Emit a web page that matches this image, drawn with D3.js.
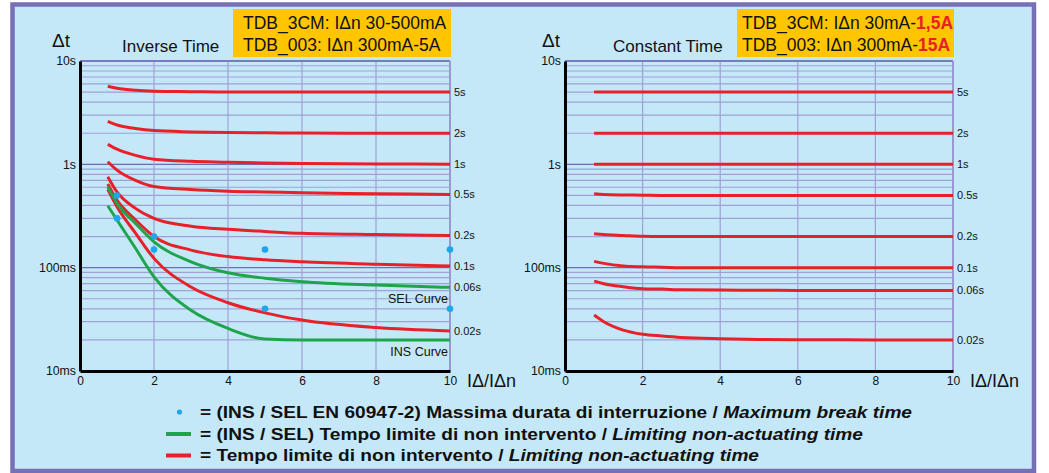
<!DOCTYPE html>
<html lang="it">
<head>
    <meta charset="UTF-8">
    <title>Inverse / Constant Time</title>
    <script src="https://cdnjs.cloudflare.com/ajax/libs/d3/7.8.5/d3.min.js"></script>
    <style>
        body { margin: 0; background: #fff; }
        svg text { font-family: "Liberation Sans", Arial, sans-serif; fill: #111; }
    </style>
</head>
<body>
<svg id="chart" width="1049" height="473"></svg>

<script>
    // ---- data ----
    var invX = [0.75, 1, 1.5, 2, 3, 4, 5, 6, 8, 10];
    var invLabels = ['5s', '2s', '1s', '0.5s', '0.2s', '0.1s', '0.06s', '0.02s'];
    var inv5s  = [5.7, 5.45, 5.2, 5.1, 5.05, 5.0, 5.0, 5.0, 5.0, 5.0];
    var inv2s  = [2.6, 2.4, 2.22, 2.12, 2.06, 2.03, 2.02, 2.01, 2.0, 2.0];
    var inv1s  = [1.56, 1.4, 1.22, 1.12, 1.07, 1.05, 1.03, 1.02, 1.01, 1.0];
    var inv05s = [1.06, 0.88, 0.7, 0.61, 0.57, 0.55, 0.54, 0.53, 0.52, 0.51];
    var inv02s = [0.76, 0.54, 0.375, 0.3, 0.252, 0.235, 0.224, 0.215, 0.209, 0.205];
    var inv01s = [0.645, 0.45, 0.29, 0.2, 0.148, 0.128, 0.119, 0.114, 0.108, 0.104];
    var inv002s = [0.573, 0.389, 0.216, 0.123, 0.065, 0.0458, 0.0365, 0.0311, 0.0263, 0.0244];
    var selCurve = [0.607, 0.419, 0.268, 0.178, 0.114, 0.0892, 0.079, 0.0732, 0.0678, 0.0645];
    var insCurve = [0.397, 0.289, 0.154, 0.0815, 0.0387, 0.0258, 0.0204, 0.02, 0.02, 0.02];

    // maximum break time points (EN 60947-2)
    var breakX = [1, 1, 2, 2, 5, 5, 10, 10];
    var breakT = [0.5, 0.3, 0.2, 0.15, 0.15, 0.04, 0.15, 0.04];

    var constX = [0.75, 1, 1.5, 2, 2.5, 3, 4, 5, 6, 8, 10];
    var constLabels = ['5s', '2s', '1s', '0.5s', '0.2s', '0.1s', '0.06s', '0.02s'];
    var const5s  = [5, 5, 5, 5, 5, 5, 5, 5, 5, 5, 5];
    var const2s  = [2, 2, 2, 2, 2, 2, 2, 2, 2, 2, 2];
    var const1s  = [1, 1, 1, 1, 1, 1, 1, 1, 1, 1, 1];
    var const05s = [0.52, 0.51, 0.505, 0.503, 0.5, 0.5, 0.5, 0.5, 0.5, 0.5, 0.5];
    var const02s = [0.213, 0.209, 0.205, 0.201, 0.2, 0.2, 0.2, 0.2, 0.2, 0.2, 0.2];
    var const01s = [0.115, 0.11, 0.104, 0.102, 0.101, 0.1, 0.1, 0.1, 0.1, 0.1, 0.1];
    var const006s = [0.0741, 0.07, 0.0655, 0.0626, 0.062, 0.061, 0.0607, 0.0605, 0.0602, 0.06, 0.06];
    var const002s = [0.0348, 0.03, 0.0249, 0.0227, 0.0218, 0.0211, 0.0205, 0.0202, 0.0201, 0.02, 0.02];

    var xTicks = [0, 2, 4, 6, 8, 10];
    var yTicks = [10, 1, 0.1, 0.01];
    var yTickText = ['10s', '1s', '100ms', '10ms'];

    var RED = '#e8202a', GREEN = '#1ea54b', BLUE = '#1ba8ea';

    var svg = d3.select('#chart');

    // frame
    svg.append('rect')
        .attr('x', 12.5).attr('y', 4.5)
        .attr('width', 1021.5).attr('height', 466.5)
        .attr('fill', '#c5e8f8')
        .attr('stroke', '#7770b5')
        .attr('stroke-width', 4.5);

    var left = makePanel({ x0: 80, x1: 450, title: 'Inverse Time', titleX: 122, dtX: 52 });
    var right = makePanel({ x0: 565, x1: 953, title: 'Constant Time', titleX: 613, dtX: 542 });

    var invSeries = [inv5s, inv2s, inv1s, inv05s, inv02s, inv01s, selCurve, inv002s];
    drawCurve(left, invX, inv5s, RED);
    drawCurve(left, invX, inv2s, RED);
    drawCurve(left, invX, inv1s, RED);
    drawCurve(left, invX, inv05s, RED);
    drawCurve(left, invX, inv02s, RED);
    drawCurve(left, invX, inv01s, RED);
    drawCurve(left, invX, inv002s, RED);
    drawCurve(left, invX, selCurve, GREEN);
    drawCurve(left, invX, insCurve, GREEN);
    endLabels(left, invSeries, invLabels);

    left.g.selectAll('.brk')
        .data(breakX)
        .enter()
        .append('circle')
        .attr('cx', function (d) { return left.x(d); })
        .attr('cy', function (d, i) { return left.y(breakT[i]); })
        .attr('r', 3.3)
        .attr('fill', BLUE);

    left.g.append('text')
        .attr('x', 448).attr('y', left.y(0.0645) + 16)
        .attr('text-anchor', 'end')
        .attr('font-size', '12.5px')
        .text('SEL Curve');
    left.g.append('text')
        .attr('x', 448).attr('y', left.y(0.02) + 16)
        .attr('text-anchor', 'end')
        .attr('font-size', '12.5px')
        .text('INS Curve');

    var constSeries = [const5s, const2s, const1s, const05s, const02s, const01s, const006s, const002s];
    constSeries.forEach(function (s) {
        drawCurve(right, constX, s, RED);
    });
    endLabels(right, constSeries, constLabels);

    // orange info boxes
    infoBox(233, 218, [
        [{ t: 'TDB_3CM: I\u0394n 30-500mA' }],
        [{ t: 'TDB_003: I\u0394n 300mA-5A' }]
    ], 243);
    infoBox(737, 217, [
        [{ t: 'TDB_3CM: I\u0394n 30mA-' }, { t: '1,5A', red: true }],
        [{ t: 'TDB_003: I\u0394n 300mA-' }, { t: '15A', red: true }]
    ], 742);

    // legend
    var legend = svg.append('g');
    legend.append('circle').attr('cx', 179.5).attr('cy', 412).attr('r', 2.6).attr('fill', BLUE);
    legend.append('line').attr('x1', 166).attr('x2', 191).attr('y1', 434).attr('y2', 434)
        .attr('stroke', GREEN).attr('stroke-width', 4);
    legend.append('line').attr('x1', 166).attr('x2', 191).attr('y1', 455.5).attr('y2', 455.5)
        .attr('stroke', RED).attr('stroke-width', 4);

    var legendRows = [
        { y: 418, w: 712, a: '= (INS / SEL EN 60947-2) Massima durata di interruzione / ', b: 'Maximum break time' },
        { y: 440, w: 663, a: '= (INS / SEL) Tempo limite di non intervento / ', b: 'Limiting non-actuating time' },
        { y: 461, w: 559, a: '= Tempo limite di non intervento / ', b: 'Limiting non-actuating time' }
    ];
    legendRows.forEach(function (r) {
        var t = legend.append('text')
            .attr('x', 200).attr('y', r.y)
            .attr('font-size', '17px')
            .attr('font-weight', 'bold')
            .style('font-family', '"Liberation Sans Narrow", "Arial Narrow", "Liberation Sans", sans-serif')
            .attr('textLength', r.w)
            .attr('lengthAdjust', 'spacingAndGlyphs');
        t.append('tspan').text(r.a);
        t.append('tspan').attr('font-style', 'italic').text(r.b);
    });

    function makePanel(o) {
        var x = d3.scaleLinear().domain([0, 10]).range([o.x0, o.x1]);
        var y = d3.scaleLog().domain([0.01, 10]).range([371, 61]);
        var g = svg.append('g');

        // log grid
        var minor = [];
        [0.01, 0.1, 1].forEach(function (dec) {
            for (var k = 2; k <= 9; k++) minor.push(dec * k);
        });
        g.selectAll('.minor')
            .data(minor)
            .enter()
            .append('line')
            .attr('x1', o.x0).attr('x2', o.x1)
            .attr('y1', function (d) { return y(d); })
            .attr('y2', function (d) { return y(d); })
            .attr('stroke', '#a09fd6')
            .attr('stroke-width', 1.2);
        g.selectAll('.major')
            .data([1, 0.1])
            .enter()
            .append('line')
            .attr('x1', o.x0).attr('x2', o.x1)
            .attr('y1', function (d) { return y(d); })
            .attr('y2', function (d) { return y(d); })
            .attr('stroke', '#6e6cb6')
            .attr('stroke-width', 1.4);
        g.selectAll('.vgrid')
            .data([2, 4, 6, 8])
            .enter()
            .append('line')
            .attr('x1', x).attr('x2', x)
            .attr('y1', 61).attr('y2', 371)
            .attr('stroke', '#a09fd6')
            .attr('stroke-width', 1.2);
        // top and right edges
        g.append('line').attr('x1', o.x0).attr('x2', o.x1).attr('y1', 61).attr('y2', 61)
            .attr('stroke', '#7c7abd').attr('stroke-width', 2);
        g.append('line').attr('x1', o.x1).attr('x2', o.x1).attr('y1', 61).attr('y2', 371)
            .attr('stroke', '#9a98d2').attr('stroke-width', 2);

        var xAxis = g.append('g')
            .attr('transform', 'translate(0,371)')
            .call(d3.axisBottom(x).tickValues(xTicks).tickSize(0).tickSizeOuter(0).tickPadding(5));
        xAxis.select('.domain').attr('stroke', '#000').attr('stroke-width', 3);
        xAxis.selectAll('text').attr('font-size', '12px').style('font-family', '"Liberation Sans", Arial, sans-serif');

        var yAxis = g.append('g')
            .attr('transform', 'translate(' + o.x0 + ',0)')
            .call(d3.axisLeft(y).tickValues(yTicks).tickSize(0).tickSizeOuter(0).tickPadding(4)
                .tickFormat(function (d, i) { return yTickText[i]; }));
        yAxis.select('.domain').attr('stroke', '#000').attr('stroke-width', 3);
        yAxis.selectAll('text').attr('font-size', '12.3px').style('font-family', '"Liberation Sans", Arial, sans-serif');

        g.append('text')
            .attr('x', o.dtX).attr('y', 47)
            .attr('font-size', '19px')
            .text('\u0394t');
        g.append('text')
            .attr('x', o.titleX).attr('y', 52)
            .attr('font-size', '17px')
            .text(o.title);
        g.append('text')
            .attr('x', o.x1 + 17).attr('y', 387)
            .attr('font-size', '18px')
            .text('I\u0394/I\u0394n');

        return { x: x, y: y, g: g, x1: o.x1 };
    }

    function drawCurve(p, xs, ts, color) {
        var line = d3.line()
            .x(function (d, i) { return p.x(xs[i]); })
            .y(function (d) { return p.y(d); })
            .curve(d3.curveMonotoneX);
        p.g.append('path')
            .datum(ts)
            .attr('d', line)
            .attr('fill', 'none')
            .attr('stroke', color)
            .attr('stroke-width', 3);
    }

    function endLabels(p, series, labels) {
        p.g.selectAll('.endlab')
            .data(series)
            .enter()
            .append('text')
            .attr('x', p.x1 + 4)
            .attr('y', function (d) { return p.y(d[d.length - 1]); })
            .attr('dy', '0.35em')
            .attr('font-size', '11px')
            .text(function (d, i) { return labels[i]; });
    }

    function infoBox(x, w, rows, tx) {
        var g = svg.append('g');
        g.append('rect')
            .attr('x', x).attr('y', 9)
            .attr('width', w).attr('height', 48)
            .attr('fill', '#ffc600');
        rows.forEach(function (row, i) {
            var t = g.append('text')
                .attr('x', tx).attr('y', 29 + i * 22)
                .attr('font-size', '17.5px');
            row.forEach(function (s) {
                var sp = t.append('tspan').text(s.t);
                if (s.red) sp.attr('font-weight', 'bold').style('fill', RED);
            });
        });
    }
</script>
</body>
</html>
